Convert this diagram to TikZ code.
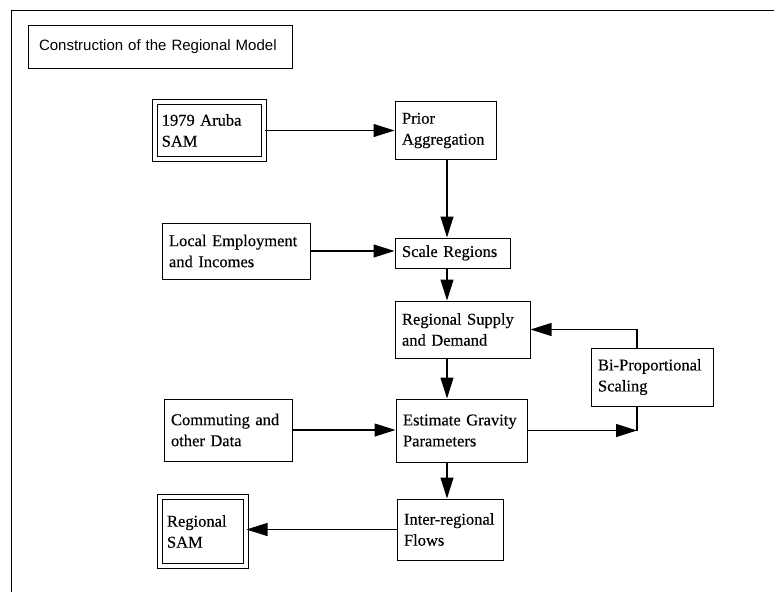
\documentclass[tikz,border=0pt]{standalone}
\usepackage{fontspec}
\setmainfont{Liberation Serif}
\newfontfamily\boxfont{Liberation Serif}[FakeBold=0.3]
\newfontfamily\titlefont{Liberation Sans}
\usepackage{tikz}
\usetikzlibrary{arrows.meta,positioning}

\tikzset{
  box/.style={draw, line width=1pt, align=left, inner xsep=7pt, inner ysep=3pt,
    font=\boxfont\fontsize{16.5}{21}\selectfont},
  dbox/.style={box, double, double distance=4pt},
  flow/.style={line width=1.1pt, -{Triangle[length=21pt,width=13pt]}},
}

\begin{document}
\begin{tikzpicture}[x=1pt,y=-1pt]
\useasboundingbox (0,0) rectangle (774,592);

% frame and heading
\draw[line width=0.9pt] (774,10) -- (11,10) -- (11,592);
\node[draw, line width=1pt, text width=242pt, minimum height=43pt, inner xsep=11pt,
  font=\titlefont\fontsize{15}{17}\selectfont] (title) at (160,46.5) {Construction of the Regional Model};

% boxes
\node[dbox, text width=95.5pt, minimum height=57pt] (aruba) at (209.5,130.5) {1979 Aruba\\SAM};
\node[box, text width=87pt, minimum height=58pt] (prior) at (445.5,130.5) {Prior\\Aggregation};
\node[box, text width=134pt, minimum height=56pt] (local) at (236,251) {Local Employment\\and Incomes};
\node[box, text width=101pt, minimum height=30pt] (scale) at (452.5,253) {Scale Regions};
\node[box, text width=121pt, minimum height=57pt] (supply) at (462.5,329.5) {Regional Supply\\and Demand};
\node[box, text width=108pt, minimum height=58pt] (bi) at (652,377) {Bi-Proportional\\Scaling};
\node[box, text width=117pt, minimum height=63pt] (est) at (461.5,430.5) {Estimate Gravity\\Parameters};
\node[box, text width=114pt, minimum height=62pt] (comm) at (228,430) {Commuting and\\other Data};
\node[box, text width=92pt, minimum height=61pt] (flows) at (450,529.5) {Inter-regional\\Flows};
\node[dbox, text width=72pt, minimum height=69pt] (regsam) at (203,531.5) {Regional\\SAM};

\coordinate (spine) at (447,0);
\coordinate (bi-out) at ([xshift=-15pt]bi.north);
\coordinate (bi-in) at ([xshift=-15pt]bi.south);
\coordinate (turn) at (bi-in |- est.east);

% connectors
\draw[flow] (aruba.east) -- (aruba.east -| prior.west);
\draw[flow] (prior.south -| spine) -- (scale.north -| spine);
\draw[flow] (local.east) -- (local.east -| scale.west);
\draw[flow] (scale.south -| spine) -- (supply.north -| spine);
\draw[flow] (supply.south -| spine) -- (est.north -| spine);
\draw[flow] (comm.east) -- (comm.east -| est.west);
\draw[flow] (est.south -| spine) -- (flows.north -| spine);
\draw[flow] (flows.west) -- (flows.west -| regsam.east);
\draw[flow] (bi-out) |- (supply.east);
\draw[flow] (est.east) -- (turn);
\draw[line width=1.1pt] (turn) -- (bi-in);
\end{tikzpicture}
\end{document}
